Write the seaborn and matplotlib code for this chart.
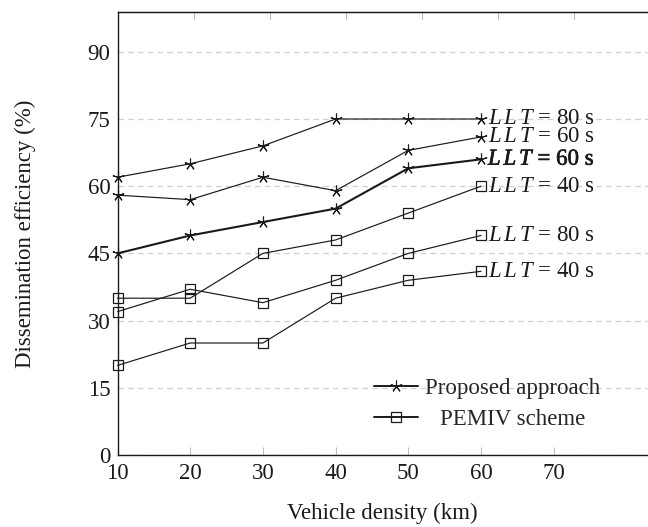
import numpy as np
import pandas as pd
import matplotlib
matplotlib.use("Agg")
import matplotlib.pyplot as plt
import matplotlib.patheffects as pe
from matplotlib.lines import Line2D
from matplotlib.transforms import Affine2D
import seaborn as sns

# ---- data -------------------------------------------------------------
density = [10, 20, 30, 40, 50, 60]

proposed_llt80 = [62, 65, 69, 75, 75, 75]
proposed_llt60 = [58, 57, 62, 59, 68, 71]
proposed_llt60b = [45, 49, 52, 55, 64, 66]

pemiv_llt40a = [35, 35, 45, 48, 54, 60]
pemiv_llt80 = [32, 37, 34, 39, 45, 49]
pemiv_llt40b = [20, 25, 25, 35, 39, 41]

series_names = ["P80", "P60", "P60b", "E40a", "E80", "E40b"]
series_values = [proposed_llt80, proposed_llt60, proposed_llt60b,
                 pemiv_llt40a, pemiv_llt80, pemiv_llt40b]
series_labels = [r"$L\,L\,T$ = 80 s", r"$L\,L\,T$ = 60 s", r"$L\,L\,T$ = 60 s",
                 r"$L\,L\,T$ = 40 s", r"$L\,L\,T$ = 80 s", r"$L\,L\,T$ = 40 s"]
series_group = ["Proposed approach"] * 3 + ["PEMIV scheme"] * 3

x_ticks = [10, 20, 30, 40, 50, 60, 70]
y_ticks = [0, 15, 30, 45, 60, 75, 90]

# ---- styling ----------------------------------------------------------
sns.set_style("ticks")
plt.rcParams["font.family"] = ["Liberation Serif", "DejaVu Serif"]
plt.rcParams["mathtext.fontset"] = "custom"
plt.rcParams["mathtext.rm"] = "Liberation Serif"
plt.rcParams["mathtext.it"] = "Liberation Serif:italic"

FS = 16.5
TICK_FS = 16.5
INK = "#1a1a1a"
STAR = (5, 2, 0)

fig = plt.figure(figsize=(6.48, 5.27), dpi=100)
W, H = 648, 527
left_px, right_px, top_px, bottom_px = 117.5, 648, 11.7, 455
ax = fig.add_axes([left_px / W, 1 - bottom_px / H,
                   (right_px - left_px) / W, (bottom_px - top_px) / H])

px_per_x = 7.27
px_per_y = 4.48
ax.set_xlim(10, 10 + (right_px - left_px) / px_per_x)
ax.set_ylim(0, (bottom_px - top_px) / px_per_y)

df = pd.DataFrame({
    "density": np.tile(density, len(series_names)),
    "eff": np.concatenate(series_values),
    "series": np.repeat(series_names, len(density)),
})

for name, label, group in zip(series_names, series_labels, series_group):
    sub = df[df["series"] == name]
    is_star = group == "Proposed approach"
    lw = 1.5 if name == "P60b" else 0.85
    sns.lineplot(
        data=sub, x="density", y="eff", ax=ax,
        color=INK, linewidth=lw,
        marker=STAR if is_star else "s",
        markersize=8.5 if is_star else 7.5,
        markeredgewidth=0.8 if is_star else 0.9,
        markerfacecolor="none", markeredgecolor=INK,
        clip_on=False, zorder=3, legend=False,
    )
    last = sub["eff"].iloc[-1]
    t = ax.annotate(label, xy=(sub["density"].iloc[-1], last),
                    xytext=(5, 0), textcoords="offset points",
                    ha="left", va="center", fontsize=FS, color=INK)
    if name == "P60b":
        t.set_path_effects([pe.withStroke(linewidth=0.45, foreground=INK)])

# ---- axes -------------------------------------------------------------
ax.set_xticks(x_ticks)
ax.set_yticks(y_ticks)
ax.tick_params(axis="x", direction="in", length=6, width=0.8,
               color="#bdbdbd", labelsize=TICK_FS, pad=6, labelcolor=INK)
ax.tick_params(axis="y", length=0, labelsize=TICK_FS, pad=5, labelcolor=INK)

ax.yaxis.grid(True, color="#cfcfcf", linewidth=0.9, linestyle=(0, (4.5, 3.3)))
ax.xaxis.grid(False)
ax.set_axisbelow(True)

for side in ("left", "bottom", "top"):
    ax.spines[side].set_color(INK)
    ax.spines[side].set_linewidth(1.0)
ax.spines["right"].set_visible(False)

# tick marks along the top frame
top = ax.secondary_xaxis("top")
top.set_xticks([10 + 10.47 * k for k in range(1, 7)])
top.tick_params(direction="in", length=6, width=0.8, color="#bdbdbd",
                labeltop=False)
top.spines["top"].set_color(INK)

ax.set_xlabel("Vehicle density (km)", fontsize=FS, color=INK, labelpad=13)
ax.set_ylabel("Dissemination efficiency (%)", fontsize=FS, color=INK,
              labelpad=37)

# ---- legend -----------------------------------------------------------
handles = [
    Line2D([], [], color=INK, linewidth=1.4, marker=STAR, markersize=8.5,
           markeredgewidth=0.8, markerfacecolor="none"),
    Line2D([], [], color=INK, linewidth=1.4, marker="s", markersize=7.5,
           markeredgewidth=0.9, markerfacecolor="none"),
]
leg = ax.legend(handles, ["Proposed approach", "PEMIV scheme"],
                loc="center", bbox_to_anchor=(0.697, 0.115),
                frameon=False, fontsize=FS, handlelength=1.9,
                handletextpad=0.3, labelspacing=0.45)

# centre the legend labels within their column
fig.canvas.draw()
renderer = fig.canvas.get_renderer()
texts = leg.get_texts()
widths = [t.get_window_extent(renderer).width for t in texts]
wmax = max(widths)
for t, w in zip(texts, widths):
    dx = (wmax - w) / 2.0
    t.set_transform(t.get_transform() + Affine2D().translate(dx, 0))

fig.savefig("out.png", dpi=100)
